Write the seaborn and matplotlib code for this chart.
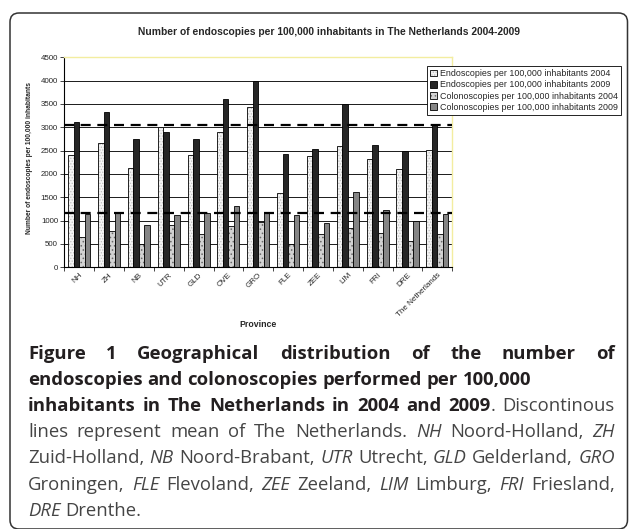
import numpy as np
import pandas as pd
import matplotlib
matplotlib.use("Agg")
import matplotlib.pyplot as plt
import matplotlib.colors as mcolors
from matplotlib.patches import FancyBboxPatch
import seaborn as sns

# values
provinces = ["NH", "ZH", "NB", "UTR", "GLD", "OVE", "GRO", "FLE", "ZEE", "LIM", "FRI", "DRE", "The Netherlands"]
endo_2004 = [2410, 2670, 2130, 3000, 2400, 2890, 3440, 1590, 2380, 2610, 2320, 2110, 2510]
endo_2009 = [3110, 3330, 2760, 2890, 2750, 3600, 4000, 2420, 2530, 3490, 2620, 2500, 3050]
colono_2004 = [640, 770, 500, 900, 710, 890, 980, 510, 710, 840, 730, 560, 720]
colono_2009 = [1140, 1190, 910, 1120, 1160, 1310, 1190, 1130, 960, 1610, 1220, 990, 1150]
endo_mean = 3060
colono_mean = 1160

series_names = [
    "Endoscopies per 100,000 inhabitants 2004",
    "Endoscopies per 100,000 inhabitants 2009",
    "Colonoscopies per 100,000 inhabitants 2004",
    "Colonoscopies per 100,000 inhabitants 2009",
]

df = pd.DataFrame({
    "Province": provinces * 4,
    "series": np.repeat(series_names, len(provinces)),
    "value": endo_2004 + endo_2009 + colono_2004 + colono_2009,
})

sns.set_style("white")
plt.rcParams["font.family"] = ["Liberation Sans", "DejaVu Sans"]
plt.rcParams["hatch.linewidth"] = 0.6

fig = plt.figure(figsize=(6.29, 5.29), dpi=100)

# background layer in pixel units for the frame and the caption
bg = fig.add_axes([0, 0, 1, 1])
bg.set_xlim(0, 629)
bg.set_ylim(529, 0)
bg.axis("off")
bg.add_patch(FancyBboxPatch((10, 13), 617.5, 516, boxstyle="round,pad=0,rounding_size=9",
                            fc="none", ec="#333333", lw=1.1))

# the chart
ax = fig.add_axes([64.3 / 629, 1 - 267.3 / 529, 388 / 629, 210 / 529])
palette = ["#f4f4f4", "#262626", "#d2d2d2", "#858585"]
sns.barplot(data=df, x="Province", y="value", hue="series", order=provinces,
            hue_order=series_names, palette=palette, saturation=1, width=0.74, gap=0,
            edgecolor="black", linewidth=0.6, ax=ax)

# dotted fills like the original
hatches = [("......", "#bdbdbd"), (None, None), ("....", "#6a6a6a"), (None, None)]
for cont, (h, hc) in zip(ax.containers, hatches):
    if h:
        for bar in cont:
            bar.set_hatch(h)
            bar._hatch_color = mcolors.to_rgba(hc)

# mean of The Netherlands
for m in [endo_mean, colono_mean]:
    ax.axhline(m, color="black", lw=1.6, ls=(0, (4.5, 3)), zorder=5)

ax.set_ylim(0, 4500)
ax.set_yticks(range(0, 4501, 500))
ax.yaxis.grid(True, color="#1a1a1a", lw=0.7)
ax.set_axisbelow(True)
ax.tick_params(axis="y", labelsize=5.7, length=3, width=0.6, pad=1.5, left=True)

ax.set_xticks(range(len(provinces)))
ax.set_xticklabels(provinces, rotation=45, ha="right", rotation_mode="anchor", fontsize=5.8)
ax.tick_params(axis="x", which="major", length=0, pad=3)
ax.set_xticks(np.arange(-0.5, len(provinces), 1), minor=True)
ax.tick_params(axis="x", which="minor", length=3, width=0.6, bottom=True)

for s in ["left", "bottom"]:
    ax.spines[s].set_color("black")
    ax.spines[s].set_linewidth(0.8)
for s in ["top", "right"]:
    ax.spines[s].set_color("#f3eda0")
    ax.spines[s].set_linewidth(1.0)

ax.set_ylabel("Number of endoscopies per 100,000 inhabitants", fontsize=4.8, fontweight="bold")
ax.yaxis.set_label_coords(-0.081, 0.52)
ax.set_xlabel("Province", fontsize=6.3, fontweight="bold")
ax.xaxis.set_label_coords(0.5, -0.25)

fig.suptitle("Number of endoscopies per 100,000 inhabitants in The Netherlands 2004-2009",
             x=329 / 629, y=1 - 32 / 529, va="center", fontsize=7.4, fontweight="bold")

leg = ax.legend(handles=list(ax.containers), labels=series_names, loc="upper right",
                bbox_to_anchor=(621 / 629, 1 - 66 / 529), bbox_transform=fig.transFigure,
                fontsize=6.4, frameon=True, fancybox=False, edgecolor="black", framealpha=1,
                borderaxespad=0, handlelength=0.8, handleheight=0.8, handletextpad=0.3,
                labelspacing=0.25, borderpad=0.35)
leg.get_frame().set_linewidth(0.6)

# caption, justified by hand
cap_family = ["Open Sans", "DejaVu Sans"]
cap_size = 13.3
cap_styles = {
    "b": dict(fontweight="bold", color="#231f20"),
    "n": dict(fontweight="normal", color="#454545"),
    "i": dict(fontweight="normal", style="italic", color="#454545"),
}
caption_lines = [
    ([("Figure 1 Geographical distribution of the number of", "b")], True, 359),
    ([("endoscopies and colonoscopies performed per 100,000", "b")], False, 385),
    ([("inhabitants in The Netherlands in 2004 and 2009", "b"), ("~. Discontinous", "n")], True, 411),
    ([("lines represent mean of The Netherlands.", "n"), ("NH", "i"), ("Noord-Holland,", "n"),
      ("ZH", "i")], True, 437),
    ([("Zuid-Holland,", "n"), ("NB", "i"), ("Noord-Brabant,", "n"), ("UTR", "i"), ("Utrecht,", "n"),
      ("GLD", "i"), ("Gelderland,", "n"), ("GRO", "i")], True, 463),
    ([("Groningen,", "n"), ("FLE", "i"), ("Flevoland,", "n"), ("ZEE", "i"), ("Zeeland,", "n"),
      ("LIM", "i"), ("Limburg,", "n"), ("FRI", "i"), ("Friesland,", "n")], True, 489.5),
    ([("DRE", "i"), ("Drenthe.", "n")], False, 516),
]
cap_left, cap_right = 28, 615

renderer = fig.canvas.get_renderer()


def text_width(s, st):
    t = bg.text(0, 0, s, fontsize=cap_size, family=cap_family, **cap_styles[st])
    w = t.get_window_extent(renderer).width
    t.remove()
    return w


space_w = text_width("x x", "n") - text_width("xx", "n")

for segs, justify, y in caption_lines:
    words = []
    for text, st in segs:
        glue = text.startswith("~")
        parts = text.lstrip("~").split(" ")
        for k, p in enumerate(parts):
            if k == 0 and glue and words:
                words[-1].append((p, st))
            else:
                words.append([(p, st)])
    widths = [sum(text_width(r, st) for r, st in w) for w in words]
    gap = space_w
    if justify and len(words) > 1:
        gap = (cap_right - cap_left - sum(widths)) / (len(words) - 1)
    x = cap_left
    for w, ww in zip(words, widths):
        xr = x
        for r, st in w:
            bg.text(xr, y, r, fontsize=cap_size, family=cap_family, va="baseline", ha="left",
                    **cap_styles[st])
            xr += text_width(r, st)
        x += ww + gap

fig.savefig("out.png", dpi=100)
